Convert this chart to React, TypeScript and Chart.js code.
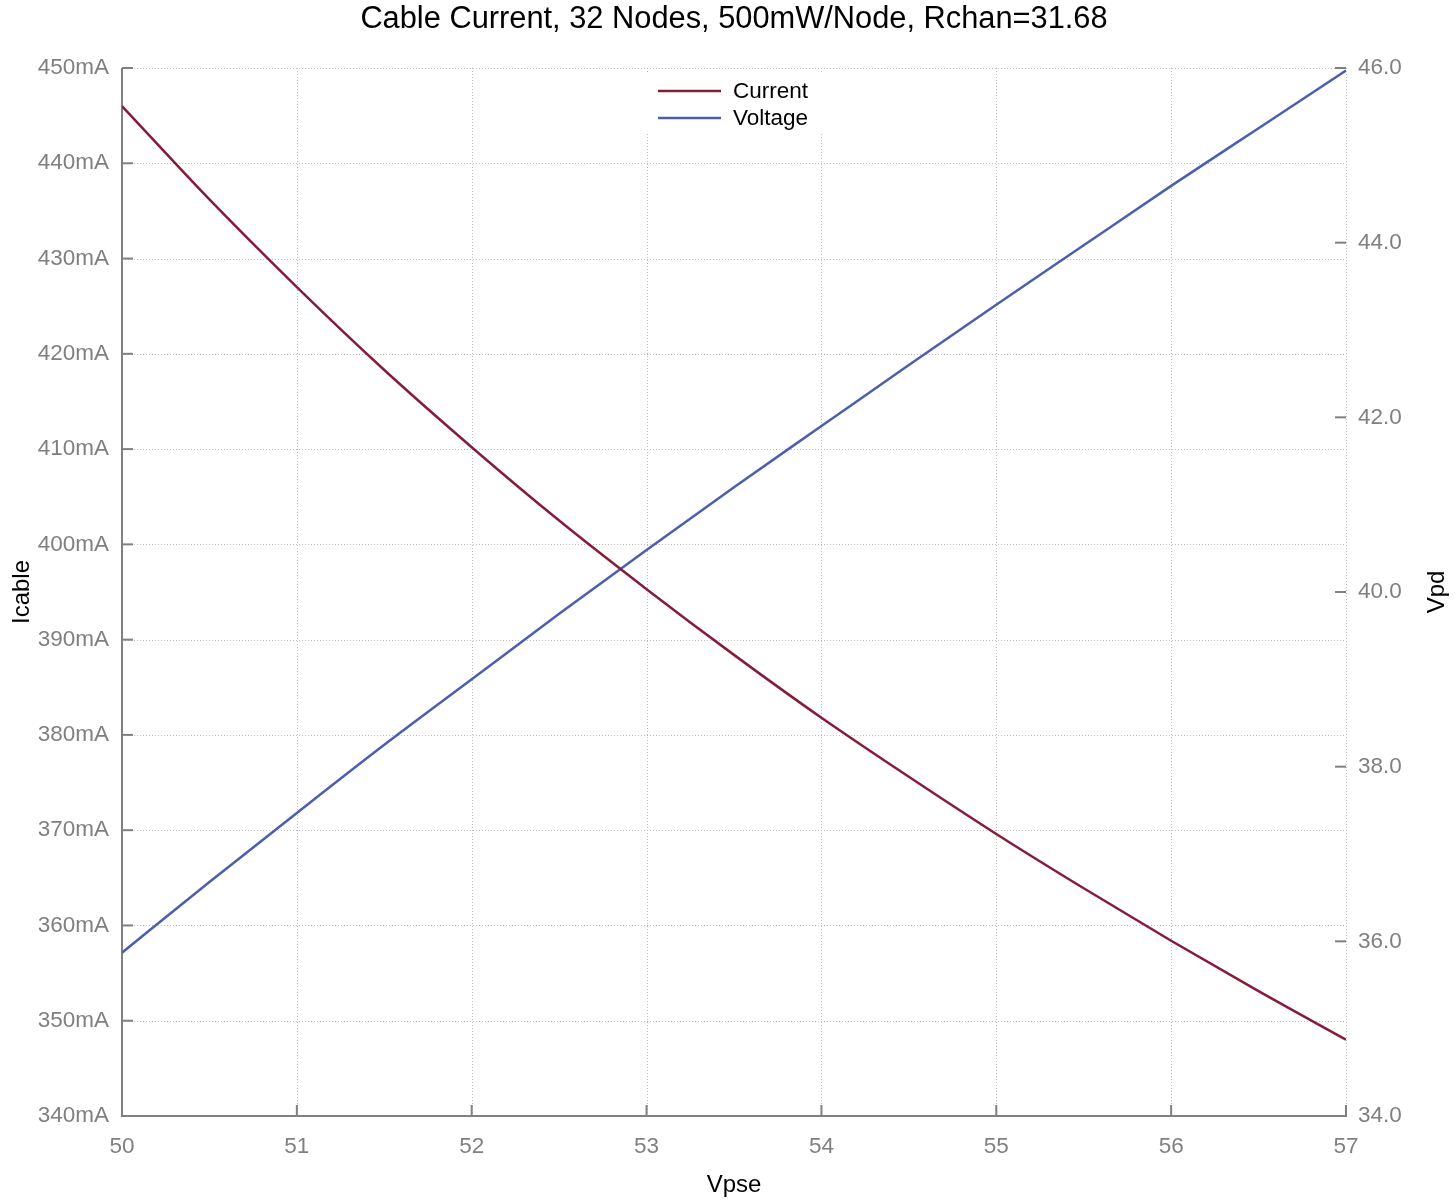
import React, { useEffect, useRef } from 'react';
import { Chart, registerables } from 'chart.js';

Chart.register(...registerables);

const TITLE = 'Cable Current, 32 Nodes, 500mW/Node, Rchan=31.68';
const X_TITLE = 'Vpse';
const Y_TITLE = 'Icable';
const Y1_TITLE = 'Vpd';
const SERIES_NAMES = ['Current', 'Voltage'];
const SERIES_COLORS = ['#851c3a', '#4b5fae'];

const vpse = [50, 50.5, 51, 51.5, 52, 52.5, 53, 53.5, 54, 54.5, 55, 55.5, 56, 56.5, 57];
const currentMA = [446.0, 436.2, 427.0, 418.3, 410.2, 402.5, 395.3, 388.4, 381.8, 375.6, 369.6, 363.9, 358.4, 353.1, 348.0];
const voltageVpd = [35.87, 36.68, 37.47, 38.25, 39.0, 39.75, 40.48, 41.2, 41.9, 42.6, 43.29, 43.97, 44.65, 45.31, 45.97];

const X_RANGE = [50, 57, 1];
const Y_RANGE = [340, 450, 10];
const Y1_RANGE = [34, 46, 2];

const FONT = '"Liberation Sans", Arial, Helvetica, sans-serif';
const GREY = '#808080';
const GRID = '#bdbdbd';

const decor = {
  id: 'decor',
  beforeDatasetsDraw(chart: any) {
    const { ctx, chartArea: a, scales } = chart;
    const x = scales.x, y = scales.y, y1 = scales.y1;
    const line = (x0: number, y0: number, x1: number, y1p: number) => {
      ctx.beginPath();
      ctx.moveTo(x0, y0);
      ctx.lineTo(x1, y1p);
      ctx.stroke();
    };
    ctx.save();
    // dotted grid
    ctx.strokeStyle = GRID;
    ctx.lineWidth = 1;
    ctx.setLineDash([1, 2]);
    x.ticks.forEach((t: any) => {
      if (t.value === x.min) return;
      const px = Math.round(x.getPixelForValue(t.value)) + 0.5;
      line(px, a.top, px, a.bottom);
    });
    y.ticks.forEach((t: any) => {
      if (t.value === y.min) return;
      const py = Math.round(y.getPixelForValue(t.value)) + 0.5;
      line(a.left, py, a.right, py);
    });
    ctx.setLineDash([]);
    // axis lines
    ctx.strokeStyle = GREY;
    ctx.lineWidth = 2;
    line(a.left, a.top, a.left, a.bottom + 1);
    line(a.left - 1, a.bottom, a.right + 1, a.bottom);
    // inward ticks
    const TL = 11;
    y.ticks.forEach((t: any) => {
      const py = y.getPixelForValue(t.value);
      line(a.left, py, a.left + TL, py);
    });
    x.ticks.forEach((t: any) => {
      const px = x.getPixelForValue(t.value);
      line(px, a.bottom, px, a.bottom - TL);
    });
    y1.ticks.forEach((t: any) => {
      const py = y1.getPixelForValue(t.value);
      line(a.right - TL, py, a.right, py);
    });
    ctx.restore();
  },
  afterDraw(chart: any) {
    const { ctx, chartArea: a } = chart;
    const cx = (a.left + a.right) / 2;
    const cy = (a.top + a.bottom) / 2;
    ctx.save();
    ctx.fillStyle = '#000';
    ctx.textAlign = 'center';
    ctx.textBaseline = 'middle';
    ctx.font = `30.8px ${FONT}`;
    ctx.fillText(TITLE, cx, 20);
    ctx.font = `24px ${FONT}`;
    ctx.fillText(X_TITLE, cx, 1185);
    ctx.save();
    ctx.translate(22, cy);
    ctx.rotate(-Math.PI / 2);
    ctx.fillText(Y_TITLE, 0, 0);
    ctx.restore();
    ctx.save();
    ctx.translate(1437, cy);
    ctx.rotate(-Math.PI / 2);
    ctx.fillText(Y1_TITLE, 0, 0);
    ctx.restore();
    // legend
    ctx.fillStyle = '#fff';
    ctx.fillRect(cx - 89, a.top + 5, 178, 59);
    chart.data.datasets.forEach((ds: any, i: number) => {
      const ly = a.top + 23 + i * 27;
      ctx.strokeStyle = ds.borderColor;
      ctx.lineWidth = 2.5;
      ctx.beginPath();
      ctx.moveTo(cx - 76, ly);
      ctx.lineTo(cx - 13, ly);
      ctx.stroke();
      ctx.fillStyle = '#000';
      ctx.textAlign = 'left';
      ctx.font = `22.5px ${FONT}`;
      ctx.fillText(ds.label, cx - 1, ly + 1);
    });
    ctx.restore();
  },
};

export default function App() {
  const ref = useRef<HTMLCanvasElement | null>(null);
  useEffect(() => {
    document.body.style.margin = '0';
    if (!ref.current) return;
    const tickFont = { family: FONT, size: 22.5 };
    const chart = new Chart(ref.current, {
      type: 'line',
      data: {
        datasets: [
          {
            label: SERIES_NAMES[0],
            data: vpse.map((v, i) => ({ x: v, y: currentMA[i] })),
            borderColor: SERIES_COLORS[0],
            borderWidth: 2.5,
            pointRadius: 0,
            cubicInterpolationMode: 'monotone',
            yAxisID: 'y',
          },
          {
            label: SERIES_NAMES[1],
            data: vpse.map((v, i) => ({ x: v, y: voltageVpd[i] })),
            borderColor: SERIES_COLORS[1],
            borderWidth: 2.5,
            pointRadius: 0,
            cubicInterpolationMode: 'monotone',
            yAxisID: 'y1',
          },
        ],
      },
      options: {
        animation: false,
        responsive: true,
        maintainAspectRatio: false,
        layout: { padding: { top: 68, left: 0, right: 0, bottom: 0 } },
        plugins: { legend: { display: false }, title: { display: false }, tooltip: { enabled: false } },
        scales: {
          x: {
            type: 'linear',
            min: X_RANGE[0],
            max: X_RANGE[1],
            ticks: { stepSize: X_RANGE[2], color: GREY, font: tickFont, padding: 17, maxRotation: 0 },
            grid: { display: false, drawTicks: false },
            border: { display: false },
            afterFit: (s: any) => { s.height = 84; },
          },
          y: {
            type: 'linear',
            position: 'left',
            min: Y_RANGE[0],
            max: Y_RANGE[1],
            ticks: { stepSize: Y_RANGE[2], color: GREY, font: tickFont, padding: 13, callback: (v: any) => `${v}mA` },
            grid: { display: false, drawTicks: false },
            border: { display: false },
            afterFit: (s: any) => { s.width = 122; },
          },
          y1: {
            type: 'linear',
            position: 'right',
            min: Y1_RANGE[0],
            max: Y1_RANGE[1],
            ticks: { stepSize: Y1_RANGE[2], color: GREY, font: tickFont, padding: 12, callback: (v: any) => Number(v).toFixed(1) },
            grid: { display: false, drawTicks: false },
            border: { display: false },
            afterFit: (s: any) => { s.width = 110; },
          },
        },
      },
      plugins: [decor],
    } as any);
    return () => chart.destroy();
  }, []);
  return (
    <div style={{ width: 1456, height: 1200, position: 'relative' }}>
      <canvas ref={ref} />
    </div>
  );
}
